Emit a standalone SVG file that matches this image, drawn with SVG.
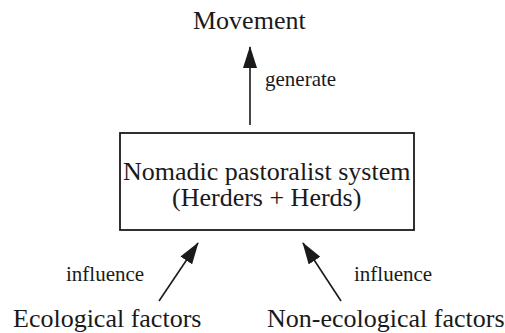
<svg xmlns="http://www.w3.org/2000/svg" width="505" height="333" viewBox="0 0 505 333">
<style>
text{font-family:'Liberation Serif', serif;fill:#1a1a1a;}
.big{font-size:26px;}
.small{font-size:21px;}
.edge{stroke:#1a1a1a;stroke-width:1.6;fill:none;}
</style>
<defs>
<marker id="ah" viewBox="0 0 22 14" refX="21" refY="7" markerWidth="22" markerHeight="14" markerUnits="userSpaceOnUse" orient="auto">
<path d="M0,0 L22,7 L0,14 Z" fill="#1a1a1a"/>
</marker>
</defs>
<rect width="505" height="333" fill="#fff"/>
<g id="movement">
<text class="big" x="193" y="29">Movement</text>
</g>
<g id="system">
<rect x="120" y="133" width="294" height="97" fill="#fff" stroke="#1a1a1a" stroke-width="1.8"/>
<text class="big" x="123" y="179.5">Nomadic pastoralist system</text>
<text class="big" x="172" y="206">(Herders + Herds)</text>
</g>
<g id="ecological">
<text class="big" x="13" y="327">Ecological factors</text>
</g>
<g id="nonecological">
<text class="big" x="267" y="327">Non-ecological factors</text>
</g>
<g id="connectors">
<line class="edge" x1="250" y1="125" x2="250" y2="47" marker-end="url(#ah)"/>
<text class="small" x="265" y="86">generate</text>
<line class="edge" x1="159" y1="301" x2="198" y2="243" marker-end="url(#ah)"/>
<text class="small" x="66" y="281">influence</text>
<line class="edge" x1="341" y1="301" x2="303" y2="243" marker-end="url(#ah)"/>
<text class="small" x="354" y="281">influence</text>
</g>
</svg>
